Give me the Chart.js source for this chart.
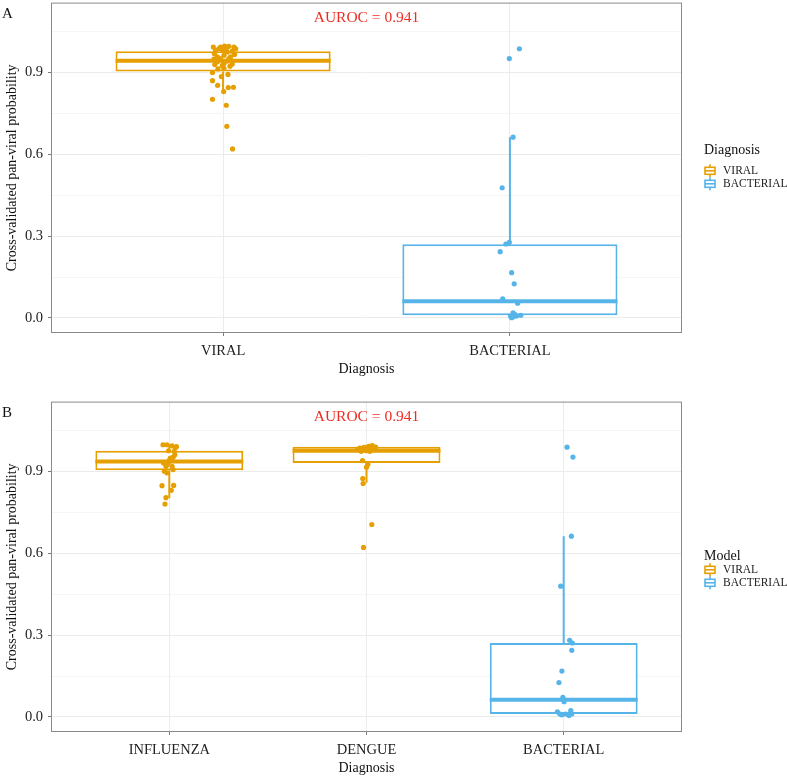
<!DOCTYPE html>
<html>
<head>
<meta charset="utf-8">
<script src="https://cdn.jsdelivr.net/npm/chart.js@4.4.0/dist/chart.umd.min.js"></script>
<style>
  html, body { margin: 0; padding: 0; background: #fff; }
  .panel { position: absolute; left: 0; width: 787px; height: 382px; }
  #panelA { top: 0; }
  #panelB { top: 399px; }
</style>
</head>
<body>
<div class="panel" id="panelA"><canvas id="chartA" width="787" height="382"></canvas></div>
<div class="panel" id="panelB"><canvas id="chartB" width="787" height="382"></canvas></div>
<script>
// ---- data ----
const AUROC_TEXT = 'AUROC = 0.941';
const AUROC_Y = 1.1;
const Y_TICKS = [0, 0.3, 0.6, 0.9];
const Y_TICK_LABELS = ['0.0', '0.3', '0.6', '0.9'];
const Y_MINOR = [0.15, 0.45, 0.75, 1.05];
const LEGEND_LABELS = ['VIRAL', 'BACTERIAL'];

// panel A
const A_CATEGORIES = ['VIRAL', 'BACTERIAL'];
const A_MODEL = ['VIRAL', 'BACTERIAL'];
const A_LOWER = [0.829, 0.001];
const A_Q1 = [0.903, 0.010];
const A_MEDIAN = [0.942, 0.061];
const A_Q3 = [0.977, 0.270];
const A_UPPER = [0.996, 0.662];
const A_VIRAL_Y = [0.992, 0.996, 0.995, 0.992, 0.986, 0.980, 0.977, 0.968, 0.965, 0.974, 0.962,
  0.950, 0.956, 0.938, 0.941, 0.928, 0.932, 0.930, 0.922, 0.912, 0.914, 0.899, 0.892, 0.884,
  0.869, 0.852, 0.829, 0.844, 0.845, 0.801, 0.779, 0.702, 0.619, 0.980, 0.986, 0.992, 0.986,
  0.956, 0.950, 0.948, 0.924];
const A_VIRAL_JITTER = [-0.034, 0.005, 0.020, 0.038, -0.015, -0.001, 0.032, -0.030, 0.040, 0.015, 0.003,
  -0.009, 0.026, -0.020, 0.015, -0.029, 0.003, 0.032, 0.024, -0.018, 0.003, -0.037, 0.017, -0.006,
  -0.037, -0.019, 0.002, 0.018, 0.036, -0.037, 0.011, 0.013, 0.033, -0.026, 0.044, -0.009, 0.011,
  -0.020, 0.020, -0.032, -0.003];
const A_BACT_Y = [0.986, 0.950, 0.662, 0.477, 0.271, 0.277, 0.243, 0.166, 0.125, 0.070, 0.054,
  0.019, 0.013, 0.001, 0.007, 0.010, 0.007, 0.004];
const A_BACT_JITTER = [0.033, -0.002, 0.011, -0.027, -0.014, -0.002, -0.034, 0.006, 0.015, -0.025, 0.027,
  0.011, 0.017, 0.006, 0.002, 0.038, 0.023, 0.010];

// panel B
const B_CATEGORIES = ['INFLUENZA', 'DENGUE', 'BACTERIAL'];
const B_MODEL = ['VIRAL', 'VIRAL', 'BACTERIAL'];
const B_LOWER = [0.801, 0.858, 0.003];
const B_Q1 = [0.904, 0.930, 0.011];
const B_MEDIAN = [0.936, 0.975, 0.063];
const B_Q3 = [0.975, 0.990, 0.271];
const B_UPPER = [0.997, 0.997, 0.662];
const B_FLU_Y = [0.997, 0.997, 0.993, 0.987, 0.975, 0.973, 0.948, 0.951, 0.930, 0.934, 0.918, 0.918,
  0.900, 0.894, 0.906, 0.847, 0.848, 0.830, 0.803, 0.780, 0.990, 0.940, 0.925, 0.960];
const B_FLU_JITTER = [-0.032, -0.012, 0.014, 0.030, -0.004, 0.025, 0.005, 0.019, -0.029, -0.004, -0.017, 0.014,
  -0.025, -0.012, 0.019, -0.037, 0.022, 0.010, -0.017, -0.022, 0.036, 0.000, -0.010, 0.028];
const B_DENGUE_Y = [0.985, 0.987, 0.991, 0.994, 0.979, 0.973, 0.975, 0.973, 0.985, 0.939, 0.915, 0.926,
  0.873, 0.855, 0.705, 0.621, 0.980, 0.988];
const B_DENGUE_JITTER = [-0.034, -0.014, 0.012, 0.029, 0.037, -0.027, 0.000, 0.017, 0.024, -0.020, 0.000, 0.007,
  -0.019, -0.017, 0.027, -0.015, -0.046, 0.046];
const B_BACT_Y = [0.988, 0.952, 0.662, 0.479, 0.281, 0.271, 0.244, 0.168, 0.126, 0.072, 0.056,
  0.019, 0.011, 0.023, 0.005, 0.011, 0.011, 0.008];
const B_BACT_JITTER = [0.017, 0.047, 0.039, -0.015, 0.030, 0.044, 0.041, -0.009, -0.024, -0.004, 0.002,
  -0.032, -0.019, 0.036, 0.027, 0.041, 0.010, -0.010];

// ---- styling ----
const COLORS = { VIRAL: '#E69F00', BACTERIAL: '#56B4E9' };
const SERIF = '"Liberation Serif", "DejaVu Serif", serif';
const BOX_WIDTH = 0.75;
const Y_MIN = -0.055, Y_MAX = 1.155;

Chart.defaults.font.family = SERIF;
Chart.defaults.color = '#222';

const isMajor = v => Y_TICKS.some(t => Math.abs(t - v) < 1e-9);

function drawKey(ctx, cx, cy, color) {
  ctx.strokeStyle = color;
  ctx.fillStyle = '#fff';
  ctx.lineWidth = 1.6;
  ctx.beginPath();
  ctx.moveTo(cx, cy - 6.5); ctx.lineTo(cx, cy - 3.5);
  ctx.moveTo(cx, cy + 3.5); ctx.lineTo(cx, cy + 6.5);
  ctx.stroke();
  ctx.fillRect(cx - 5, cy - 3.5, 10, 7);
  ctx.strokeRect(cx - 5, cy - 3.5, 10, 7);
  ctx.beginPath();
  ctx.moveTo(cx - 5, cy); ctx.lineTo(cx + 5, cy);
  ctx.stroke();
}

const panelDecor = {
  id: 'panelDecor',
  afterDraw(chart, args, opts) {
    const { ctx, chartArea: a, scales: { x, y } } = chart;
    ctx.save();
    // panel border
    ctx.strokeStyle = '#8a8a8a';
    ctx.lineWidth = 1;
    ctx.strokeRect(a.left + 0.5, a.top + 0.5, a.width - 1, a.height - 1);

    // AUROC annotation
    ctx.fillStyle = '#ee2c24';
    ctx.font = '15.5px ' + SERIF;
    ctx.textAlign = 'center';
    ctx.textBaseline = 'middle';
    ctx.fillText(AUROC_TEXT, x.getPixelForValue(opts.annotX), y.getPixelForValue(AUROC_Y));

    // panel tag
    ctx.fillStyle = '#111';
    ctx.font = '15px ' + SERIF;
    ctx.textAlign = 'left';
    ctx.fillText(opts.tag, 2, a.top + 11);

    // legend
    const lx = a.right + 22;
    const cy = (a.top + a.bottom) / 2;
    ctx.font = '14px ' + SERIF;
    ctx.fillStyle = '#111';
    ctx.fillText(opts.legendTitle, lx, cy + opts.titleDy);
    ctx.font = '11.5px ' + SERIF;
    LEGEND_LABELS.forEach((lab, i) => {
      const iy = cy + 3 + i * 13;
      drawKey(ctx, lx + 6, iy, COLORS[lab]);
      ctx.fillStyle = '#222';
      ctx.fillText(lab, lx + 19, iy + 0.5);
    });
    ctx.restore();
  }
};

function makePanel(canvasId, p) {
  const xs = p.categories.map((_, i) => i + 1);
  const colors = p.model.map(m => COLORS[m]);
  const datasets = [];

  // jittered points
  p.points.forEach((grp, i) => {
    datasets.push({
      type: 'scatter',
      data: grp.y.map((v, k) => ({ x: xs[i] + grp.jitter[k], y: v })),
      backgroundColor: colors[i],
      borderWidth: 0,
      pointRadius: 2.6,
      pointHoverRadius: 2.6,
      order: 0
    });
  });

  // boxes (q1..q3)
  datasets.push({
    type: 'bar',
    data: xs.map((x, i) => ({ x: x, y: [p.q1[i], p.q3[i]] })),
    backgroundColor: '#fff',
    borderColor: colors,
    borderWidth: 2,
    borderSkipped: false,
    barPercentage: BOX_WIDTH,
    categoryPercentage: 1,
    order: 2
  });

  xs.forEach((x, i) => {
    // median
    datasets.push({
      type: 'line',
      data: [{ x: x - BOX_WIDTH / 2, y: p.median[i] }, { x: x + BOX_WIDTH / 2, y: p.median[i] }],
      borderColor: colors[i],
      borderWidth: 4,
      pointRadius: 0,
      order: 1
    });
    // whiskers
    datasets.push({
      type: 'line',
      data: [{ x: x, y: p.lower[i] }, { x: x, y: p.q1[i] }, { x: x, y: null },
             { x: x, y: p.q3[i] }, { x: x, y: p.upper[i] }],
      borderColor: colors[i],
      borderWidth: 2,
      pointRadius: 0,
      spanGaps: false,
      order: 3
    });
  });

  const noPad = s => { s.paddingTop = 0; s.paddingBottom = 0; s.paddingLeft = 0; s.paddingRight = 0; };

  return new Chart(document.getElementById(canvasId), {
    type: 'scatter',
    data: { datasets },
    options: {
      responsive: false,
      animation: false,
      layout: { padding: { left: 0, right: 105, top: 1, bottom: 0 } },
      plugins: {
        legend: { display: false },
        tooltip: { enabled: false },
        panelDecor: { tag: p.tag, legendTitle: p.legendTitle, annotX: p.annotX, titleDy: p.titleDy }
      },
      scales: {
        x: {
          type: 'linear',
          min: 0.4,
          max: xs.length + 0.6,
          offset: false,
          afterBuildTicks: s => { s.ticks = xs.map(v => ({ value: v })); },
          afterFit: s => { s.height = 49; noPad(s); },
          ticks: {
            autoSkip: false,
            maxRotation: 0,
            padding: 6,
            color: '#222',
            font: { size: 14.5 },
            callback: v => p.categories[Math.round(v) - 1]
          },
          grid: { offset: false, color: '#ececec', lineWidth: 1, tickLength: 3, tickColor: '#7a7a7a' },
          border: { display: false },
          title: { display: true, text: 'Diagnosis', color: '#111', font: { size: 14 }, padding: { top: 0, bottom: 4 } }
        },
        y: {
          min: Y_MIN,
          max: Y_MAX,
          afterBuildTicks: s => {
            s.ticks = Y_TICKS.concat(Y_MINOR).sort((a, b) => a - b).map(v => ({ value: v }));
          },
          afterFit: s => { s.width = 51; noPad(s); },
          ticks: {
            autoSkip: false,
            padding: 5,
            color: '#222',
            font: { size: 14.5 },
            callback: v => {
              const i = Y_TICKS.findIndex(t => Math.abs(t - v) < 1e-9);
              return i >= 0 ? Y_TICK_LABELS[i] : '';
            }
          },
          grid: {
            color: c => isMajor(c.tick.value) ? '#ebebeb' : '#f3f3f3',
            lineWidth: c => isMajor(c.tick.value) ? 1 : 0.8,
            tickLength: 3,
            tickColor: c => isMajor(c.tick.value) ? '#7a7a7a' : 'rgba(0,0,0,0)'
          },
          border: { display: false },
          title: { display: true, text: 'Cross-validated pan-viral probability', color: '#111', font: { size: 14 }, padding: { top: 4, bottom: 0 } }
        }
      }
    },
    plugins: [panelDecor]
  });
}

makePanel('chartA', {
  tag: 'A', legendTitle: 'Diagnosis', annotX: 1.5, titleDy: -17,
  categories: A_CATEGORIES, model: A_MODEL,
  lower: A_LOWER, q1: A_Q1, median: A_MEDIAN, q3: A_Q3, upper: A_UPPER,
  points: [{ y: A_VIRAL_Y, jitter: A_VIRAL_JITTER }, { y: A_BACT_Y, jitter: A_BACT_JITTER }]
});

makePanel('chartB', {
  tag: 'B', legendTitle: 'Model', annotX: 2, titleDy: -10,
  categories: B_CATEGORIES, model: B_MODEL,
  lower: B_LOWER, q1: B_Q1, median: B_MEDIAN, q3: B_Q3, upper: B_UPPER,
  points: [{ y: B_FLU_Y, jitter: B_FLU_JITTER }, { y: B_DENGUE_Y, jitter: B_DENGUE_JITTER },
           { y: B_BACT_Y, jitter: B_BACT_JITTER }]
});
</script>
</body>
</html>
